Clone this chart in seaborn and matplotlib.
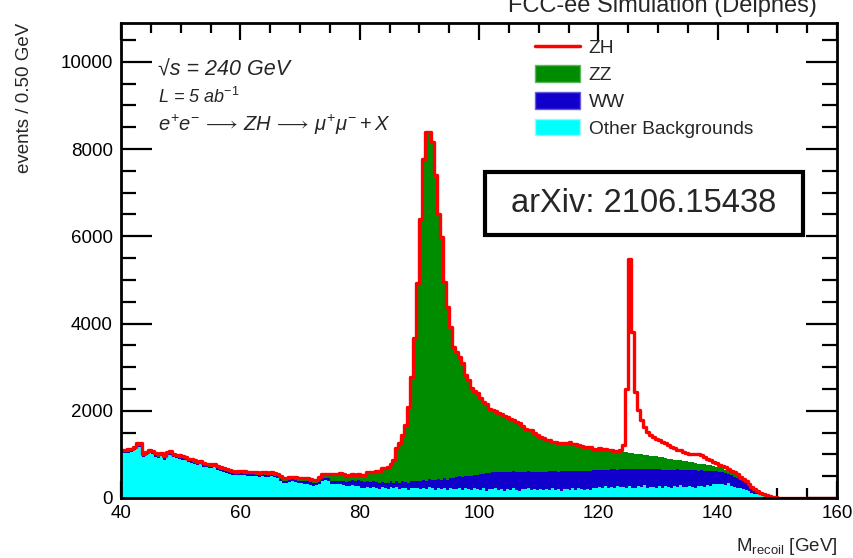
import numpy as np
import pandas as pd
import matplotlib
matplotlib.use("Agg")
import matplotlib.pyplot as plt
import seaborn as sns
from matplotlib.lines import Line2D
from matplotlib.patches import Patch, Rectangle

# recoil mass histogram, 0.5 GeV bins from 40 to 150 GeV (empty above)
# total = red outline (ZH + ZZ + WW + other)
total = [
    1100, 1105, 1115, 1120, 1175, 1250, 1250, 1020, 1060, 1100, 1080, 1030, 1000, 1040, 960, 1060, 1070, 1010, 990, 975,
    960, 940, 900, 890, 860, 830, 850, 800, 790, 770, 760, 780, 735, 700, 690, 660, 640, 615, 600, 610,
    620, 610, 600, 605, 595, 590, 580, 600, 585, 575, 590, 570, 560, 500, 450, 455, 470, 490, 480, 465,
    460, 450, 455, 430, 410, 420, 470, 540, 555, 550, 560, 545, 560, 570, 540, 510, 525, 540, 530, 545,
    525, 530, 600, 590, 600, 610, 620, 680, 690, 700, 790, 870, 1140, 1250, 1440, 1670, 2090, 2780, 3660, 4930,
    6400, 7780, 8390, 8380, 8165, 7400, 6520, 5990, 4955, 4380, 3920, 3470, 3350, 3236, 3090, 2815, 2700, 2520, 2460, 2400,
    2300, 2200, 2150, 2050, 2010, 2000, 1960, 1930, 1880, 1850, 1800, 1780, 1740, 1710, 1650, 1590, 1570, 1555, 1490, 1450,
    1400, 1380, 1340, 1320, 1290, 1280, 1265, 1260, 1250, 1270, 1290, 1240, 1230, 1210, 1200, 1170, 1165, 1160, 1130, 1110,
    1136, 1130, 1120, 1100, 1100, 1080, 1070, 1100, 1210, 2510, 5490, 3810, 2430, 2015, 1785, 1630, 1520, 1450, 1400, 1350,
    1325, 1290, 1250, 1210, 1170, 1135, 1110, 1100, 1060, 1035, 1020, 1000, 1010, 1020, 990, 945, 900, 870, 830, 800,
    760, 740, 700, 660, 620, 590, 540, 480, 430, 400, 330, 260, 200, 160, 120, 90, 66, 45, 28, 12,
]

other = [
    1025, 1027, 1035, 1045, 1095, 1170, 1175, 945, 980, 1022, 1005, 950, 922, 965, 880, 985, 992, 930, 915, 897,
    882, 860, 825, 810, 782, 750, 770, 722, 710, 688, 680, 702, 653, 620, 605, 578, 560, 530, 518, 525,
    527, 520, 505, 512, 498, 495, 487, 503, 490, 475, 495, 470, 455, 400, 345, 353, 365, 380, 375, 350,
    342, 330, 328, 305, 285, 295, 332, 390, 403, 385, 330, 320, 320, 315, 300, 270, 280, 290, 270, 275,
    240, 220, 250, 230, 260, 240, 215, 250, 230, 200, 250, 230, 245, 210, 235, 225, 180, 240, 220, 230,
    215, 230, 200, 245, 220, 190, 235, 210, 225, 180, 230, 215, 200, 240, 190, 220, 205, 185, 230, 200,
    190, 220, 170, 210, 195, 240, 180, 200, 160, 215, 190, 230, 185, 170, 210, 195, 240, 180, 205, 190,
    200, 175, 215, 190, 230, 180, 205, 160, 210, 195, 185, 225, 190, 240, 200, 175, 215, 190, 220, 240,
    250, 230, 270, 240, 260, 225, 280, 245, 255, 235, 270, 240, 225, 265, 250, 290, 235, 260, 245, 230,
    265, 240, 280, 250, 230, 270, 255, 290, 245, 260, 275, 250, 235, 270, 285, 260, 300, 280, 310, 330,
    320, 330, 300, 340, 280, 250, 230, 220, 210, 180, 150, 120, 100, 90, 70, 50, 35, 20, 10, 5,
]

ww = [
    25, 28, 30, 25, 30, 30, 25, 25, 30, 28, 25, 30, 28, 25, 30, 25, 28, 30, 25, 28,
    28, 30, 25, 30, 28, 30, 30, 28, 30, 32, 30, 28, 32, 30, 35, 32, 30, 35, 32, 35,
    38, 35, 40, 38, 42, 40, 38, 42, 40, 45, 40, 42, 45, 40, 45, 42, 45, 48, 45, 50,
    48, 50, 52, 55, 50, 55, 58, 60, 62, 65, 70, 75, 80, 85, 90, 100, 110, 120, 130, 140,
    150, 140, 135, 130, 120, 125, 130, 120, 125, 140, 130, 120, 140, 135, 150, 145, 160, 150, 170, 165,
    180, 175, 200, 185, 195, 215, 200, 210, 230, 240, 235, 250, 270, 255, 280, 290, 300, 320, 300, 330,
    360, 340, 400, 370, 390, 360, 410, 390, 430, 380, 410, 380, 420, 430, 390, 410, 370, 420, 400, 410,
    400, 430, 380, 420, 390, 440, 400, 450, 410, 420, 430, 400, 440, 390, 430, 450, 410, 440, 420, 400,
    390, 420, 380, 410, 400, 430, 370, 410, 400, 420, 390, 420, 440, 400, 410, 370, 420, 400, 410, 430,
    390, 410, 370, 400, 420, 380, 400, 360, 400, 380, 360, 390, 400, 360, 350, 370, 330, 340, 310, 290,
    280, 260, 270, 210, 240, 240, 230, 200, 170, 160, 140, 110, 80, 60, 40, 30, 25, 20, 18, 7,
]

# ZH signal from 120 GeV upward (negligible below)
zh_tail = [
    0, 0, 0, 0, 0, 0, 0, 10, 150, 1460, 4450, 2780, 1410, 1015, 775, 640, 540, 480, 440, 395,
    385, 360, 340, 305, 280, 255, 240, 240, 210, 195, 190, 180, 210, 230, 200, 165, 140, 120, 100, 80,
    60, 60, 50, 40, 30, 30, 30, 30, 30, 30, 25, 18, 10, 5, 7, 8, 5, 4, 0, 0,
]

colors = {"ZZ": "#008c00", "WW": "#1100cc", "Other": "#00ffff"}

edges = np.arange(40, 160.001, 0.5)
centers = edges[:-1] + 0.25
nb = len(centers)
bin_list = edges.tolist()


def padded(v, start=0):
    v = np.asarray(v, dtype=float)
    return np.pad(v, (start, nb - start - len(v)))


tot = padded(total)
oth = padded(other)
w_ww = padded(ww)
zh = padded(zh_tail, start=160)
zz = np.clip(tot - zh - w_ww - oth, 0, None)

df = pd.DataFrame({
    "m": np.tile(centers, 3),
    "w": np.concatenate([zz, w_ww, oth]),
    "proc": np.repeat(["ZZ", "WW", "Other"], nb),
})

sns.set_theme(style="ticks")
plt.rcParams["font.family"] = ["Liberation Sans", "DejaVu Sans"]
plt.rcParams["mathtext.fontset"] = "custom"
plt.rcParams["mathtext.rm"] = "Liberation Sans"
plt.rcParams["mathtext.it"] = "Liberation Sans:italic"
plt.rcParams["mathtext.bf"] = "Liberation Sans:bold"
plt.rcParams["mathtext.fallback"] = "stix"

fig = plt.figure(figsize=(8.54, 5.58), dpi=100)
ax = fig.add_axes([121 / 854, 1 - 498 / 558, 716 / 854, 475 / 558])

sns.histplot(data=df, x="m", weights="w", hue="proc", hue_order=["ZZ", "WW", "Other"],
             bins=bin_list, multiple="stack", element="step", palette=colors,
             alpha=1, linewidth=0, legend=False, ax=ax)
sns.histplot(x=centers, weights=tot, bins=bin_list, element="step", fill=False,
             color="#ff0000", linewidth=2.4, ax=ax)

ax.set_xlim(40, 160)
ax.set_ylim(0, 10890)
ax.set_xticks(np.arange(40, 161, 20))
ax.set_xticks(np.arange(40, 161, 5), minor=True)
ax.set_yticks(np.arange(0, 10001, 2000))
ax.set_yticks(np.arange(0, 10890, 500), minor=True)
ax.tick_params(which="both", direction="in", top=True, right=True, width=1.6,
               colors="black", labelsize=13.5)
ax.tick_params(axis="x", which="major", length=12, pad=5)
ax.tick_params(axis="x", which="minor", length=7)
ax.tick_params(axis="y", which="major", length=22, pad=6)
ax.tick_params(axis="y", which="minor", length=11)
for s in ax.spines.values():
    s.set_linewidth(2)
    s.set_color("black")

ax.set_xlabel(r"M$_{\mathrm{recoil}}$ [GeV]", loc="right", fontsize=13.5)
ax.xaxis.set_label_coords(1.0, -0.08)
ax.set_ylabel("events / 0.50 GeV", loc="top", fontsize=13.5)
ax.yaxis.set_label_coords(-0.123, 1.0)

ax.text(0.052, 0.89, "\u221as = 240 GeV", transform=ax.transAxes, fontsize=15.5,
        fontstyle="italic", va="baseline")
ax.text(0.052, 0.831, r"L = 5 ab$^{\mathit{-1}}$", transform=ax.transAxes, fontsize=13,
        fontstyle="italic", va="baseline")
ax.text(0.052, 0.773,
        r"$e^{+}e^{-}\,\longrightarrow\,ZH\,\longrightarrow\,\mu^{+}\mu^{-} + X$",
        transform=ax.transAxes, fontsize=14.5, va="baseline")

handles = [
    Line2D([0], [0], color="#ff0000", lw=2.5),
    Patch(facecolor=colors["ZZ"], edgecolor="#5cb85c", lw=1),
    Patch(facecolor=colors["WW"], edgecolor="#6a5ce0", lw=1),
    Patch(facecolor=colors["Other"], edgecolor="#9ff5f5", lw=1),
]
ax.legend(handles, ["ZH", "ZZ", "WW", "Other Backgrounds"], loc="upper left",
          bbox_to_anchor=(0.578, 0.968), frameon=False, fontsize=13.8,
          borderpad=0, borderaxespad=0, handlelength=2.35, handleheight=0.95,
          handletextpad=0.45, labelspacing=0.42)

ax.add_patch(Rectangle((0.5084, 0.5537), 0.444, 0.1326, transform=ax.transAxes,
                       fill=False, edgecolor="black", lw=3, zorder=5))
ax.text(0.7304, 0.619, "arXiv: 2106.15438", transform=ax.transAxes, fontsize=23.5,
        ha="center", va="center", zorder=6)

fig.text(0.7758, 1 - 12 / 558, "FCC-ee Simulation (Delphes)", ha="center",
         va="baseline", fontsize=17)

fig.savefig("out.png", dpi=100)
